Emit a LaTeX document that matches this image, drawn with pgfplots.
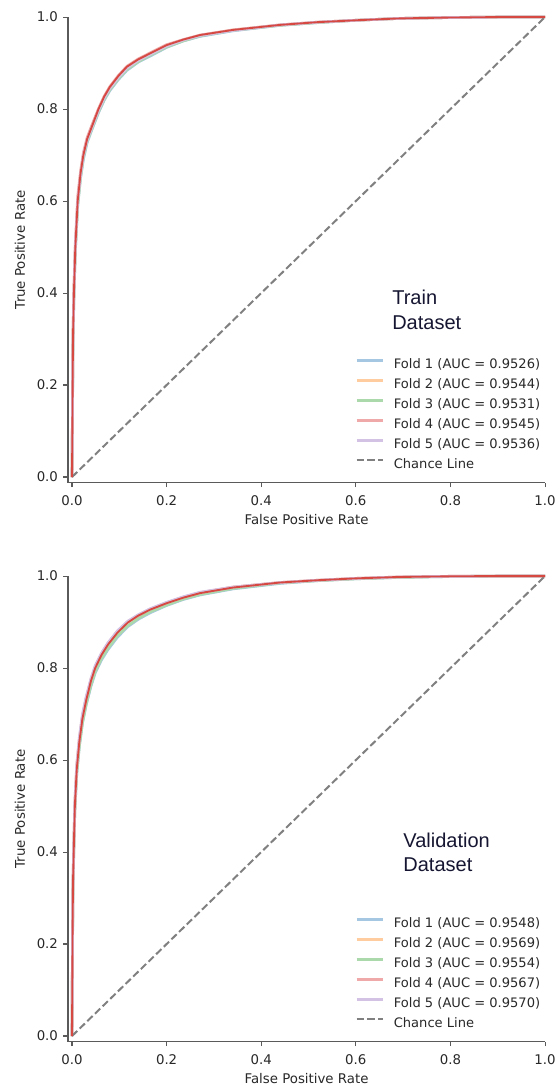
\documentclass[border=0pt]{standalone}
\usepackage{fontspec}
\setmainfont{DejaVu Sans}
\newfontfamily\annot{Liberation Sans}
\usepackage{pgfplots}
\usepackage{pgfplotstable}
\pgfplotsset{compat=1.18}

\definecolor{fblue}{RGB}{165,199,225}
\definecolor{forange}{RGB}{255,204,159}
\definecolor{fgreen}{RGB}{171,217,171}
\definecolor{fred}{RGB}{239,169,169}
\definecolor{fpurple}{RGB}{212,194,229}
\definecolor{meanred}{RGB}{214,72,66}
\definecolor{chance}{RGB}{128,128,128}
\definecolor{axgray}{RGB}{90,90,90}
\definecolor{txt}{RGB}{40,40,40}
\definecolor{annotc}{RGB}{22,22,50}

% train folds
\pgfplotstableread{
x      f1     f2     f3     f4     f5     avg
0      0      0      0      0      0      0
0.001  0.13   0.16   0.14   0.16   0.15   0.15
0.002  0.28   0.31   0.29   0.31   0.30   0.30
0.004  0.39   0.41   0.39   0.41   0.40   0.40
0.007  0.49   0.50   0.49   0.51   0.50   0.50
0.012  0.59   0.60   0.59   0.61   0.60   0.60
0.018  0.65   0.66   0.65   0.665  0.655  0.66
0.024  0.69   0.70   0.695  0.705  0.70   0.70
0.032  0.727  0.736  0.730  0.738  0.733  0.735
0.042  0.755  0.763  0.757  0.765  0.760  0.762
0.056  0.792  0.799  0.794  0.801  0.797  0.800
0.068  0.819  0.826  0.821  0.828  0.824  0.827
0.080  0.840  0.847  0.842  0.849  0.845  0.848
0.098  0.864  0.871  0.866  0.873  0.869  0.872
0.116  0.884  0.891  0.886  0.893  0.889  0.892
0.140  0.902  0.907  0.903  0.909  0.906  0.908
0.165  0.915  0.920  0.917  0.922  0.919  0.921
0.200  0.934  0.938  0.935  0.940  0.937  0.939
0.235  0.948  0.950  0.948  0.951  0.950  0.951
0.271  0.958  0.960  0.959  0.961  0.960  0.961
0.340  0.970  0.972  0.971  0.972  0.971  0.972
0.440  0.982  0.983  0.982  0.983  0.983  0.983
0.520  0.988  0.989  0.988  0.989  0.989  0.989
0.600  0.993  0.993  0.993  0.993  0.993  0.993
0.690  0.997  0.997  0.997  0.997  0.997  0.997
0.800  0.999  0.999  0.999  0.999  0.999  0.999
0.900  1      1      1      1      1      1
1.000  1      1      1      1      1      1
}\traintab

% validation folds
\pgfplotstableread{
x      f1     f2     f3     f4     f5     avg
0      0      0      0      0      0      0
0.001  0.18   0.21   0.19   0.20   0.21   0.20
0.002  0.31   0.34   0.32   0.33   0.34   0.33
0.004  0.41   0.43   0.41   0.42   0.43   0.42
0.006  0.49   0.51   0.49   0.50   0.51   0.50
0.010  0.57   0.59   0.57   0.585  0.59   0.58
0.0155 0.63   0.645  0.63   0.645  0.65   0.64
0.022  0.68   0.695  0.68   0.695  0.70   0.69
0.030  0.72   0.735  0.722  0.735  0.738  0.73
0.040  0.760  0.774  0.763  0.775  0.777  0.772
0.049  0.789  0.802  0.792  0.803  0.805  0.800
0.062  0.817  0.830  0.820  0.831  0.832  0.828
0.076  0.840  0.853  0.843  0.854  0.855  0.851
0.096  0.867  0.879  0.870  0.880  0.881  0.877
0.118  0.890  0.900  0.892  0.901  0.902  0.899
0.140  0.906  0.915  0.908  0.915  0.916  0.914
0.165  0.920  0.928  0.922  0.928  0.929  0.927
0.200  0.936  0.942  0.937  0.942  0.943  0.941
0.235  0.949  0.954  0.950  0.954  0.955  0.953
0.271  0.959  0.964  0.960  0.964  0.965  0.963
0.340  0.972  0.976  0.973  0.976  0.976  0.975
0.440  0.984  0.986  0.985  0.986  0.986  0.986
0.520  0.990  0.991  0.990  0.991  0.991  0.991
0.600  0.994  0.995  0.994  0.995  0.995  0.995
0.690  0.997  0.998  0.997  0.998  0.998  0.998
0.800  0.999  0.9995 0.999  0.9995 0.9995 0.9995
0.900  1      1      1      1      1      1
1.000  1      1      1      1      1      1
}\validtab

\pgfplotsset{
  rocax/.style={
    scale only axis, width=357.8pt, height=349.1pt,
    xmin=-0.0085, xmax=1.0, ymin=-0.012, ymax=1.0,
    axis lines=left, axis line style={axgray, line width=0.8pt, -},
    tick align=outside, tick style={axgray, line width=0.8pt},
    major tick length=3.5pt,
    xtick={0,0.2,...,1.0}, ytick={0,0.2,...,1.0},
    xticklabel style={font=\fontsize{10}{12}\selectfont, text=txt, yshift=-2.5pt},
    yticklabel style={font=\fontsize{10}{12}\selectfont, text=txt, xshift=-0.5pt},
    /pgf/number format/.cd, fixed, fixed zerofill, precision=1, assume math mode=true,
    /pgfplots/.cd,
    xlabel={False Positive Rate}, ylabel={True Positive Rate},
    label style={font=\fontsize{10}{12}\selectfont, text=txt},
    xlabel style={at={(axis description cs:0.5,-0.080)}, anchor=center},
    ylabel style={at={(axis description cs:-0.1006,0.5)}, anchor=center},
    clip=false,
    legend cell align=left,
    legend image code/.code={\draw[##1] (0pt,3pt) -- (20pt,3pt);},
    legend style={draw=none, fill=none, inner sep=0pt,
      at={(axis cs:0.598,0.013)}, anchor=south west,
      font=\fontsize{9.8}{11}\selectfont, text=txt,
      nodes={text height=7.5pt, text depth=2pt, inner sep=0pt},
      row sep=5.5pt,
      /tikz/every odd column/.append style={column sep=7pt}},
    fold/.style={line width=2pt, line join=round},
  }
}

\begin{document}
\begin{tikzpicture}
\useasboundingbox (-51pt,-452.6pt) rectangle (367.5pt,361.9pt);

% ---------- train ----------
\begin{axis}[rocax, at={(0pt,0pt)}, anchor=south west]
  \addplot[fold, fblue] table[x=x, y=f1] {\traintab};
  \addplot[fold, forange] table[x=x, y=f2] {\traintab};
  \addplot[fold, fgreen] table[x=x, y=f3] {\traintab};
  \addplot[fold, fred] table[x=x, y=f4] {\traintab};
  \addplot[fold, fpurple] table[x=x, y=f5] {\traintab};
  \addplot[chance, dashed, line width=1.5pt, dash pattern=on 5.5pt off 2.5pt] coordinates {(0,0) (1,1)};
  \addplot[meanred, line width=1.4pt, line join=round, forget plot] table[x=x, y=avg] {\traintab};
  \legend{Fold 1 (AUC = 0.9526), Fold 2 (AUC = 0.9544), Fold 3 (AUC = 0.9531),
          Fold 4 (AUC = 0.9545), Fold 5 (AUC = 0.9536), Chance Line}
  \node[anchor=base west, align=left, inner sep=0pt, text=annotc, font=\annot\fontsize{15}{18.5}\selectfont]
    at (axis cs:0.6765,0.321) {Train\\Dataset};
\end{axis}

% ---------- validation ----------
\begin{axis}[rocax, at={(0pt,-419.25pt)}, anchor=south west]
  \addplot[fold, fblue] table[x=x, y=f1] {\validtab};
  \addplot[fold, forange] table[x=x, y=f2] {\validtab};
  \addplot[fold, fgreen] table[x=x, y=f3] {\validtab};
  \addplot[fold, fred] table[x=x, y=f4] {\validtab};
  \addplot[fold, fpurple] table[x=x, y=f5] {\validtab};
  \addplot[chance, dashed, line width=1.5pt, dash pattern=on 5.5pt off 2.5pt] coordinates {(0,0) (1,1)};
  \addplot[meanred, line width=1.4pt, line join=round, forget plot] table[x=x, y=avg] {\validtab};
  \legend{Fold 1 (AUC = 0.9548), Fold 2 (AUC = 0.9569), Fold 3 (AUC = 0.9554),
          Fold 4 (AUC = 0.9567), Fold 5 (AUC = 0.9570), Chance Line}
  \node[anchor=base west, align=left, inner sep=0pt, text=annotc, font=\annot\fontsize{15}{18.5}\selectfont]
    at (axis cs:0.700,0.357) {Validation\\Dataset};
\end{axis}
\end{tikzpicture}
\end{document}
